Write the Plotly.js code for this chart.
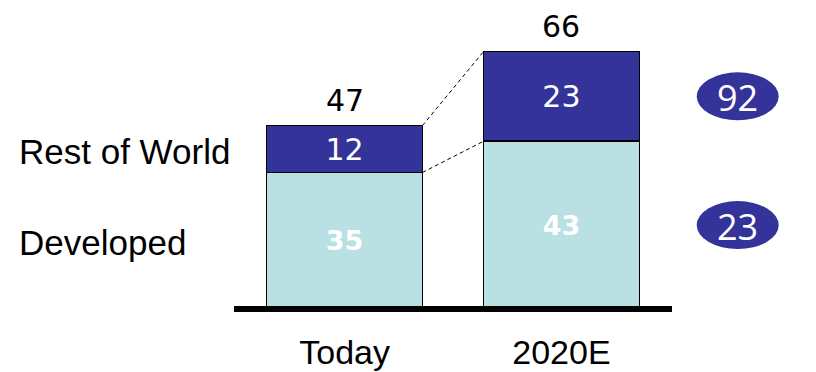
<!DOCTYPE html>
<html>
<head>
<meta charset="utf-8">
<script src="https://cdn.plot.ly/plotly-3.0.1.min.js"></script>
<style>html,body{margin:0;padding:0;background:#fff;}#chart{width:816px;height:372px;}</style>
</head>
<body>
<div id="chart"></div>
<script>
// ---- data ----
const categories = ["Today", "2020E"];
const developed = [35, 43];
const restOfWorld = [12, 23];
const totals = [47, 66];
const seriesNames = ["Developed", "Rest of World"];
const growthLabels = [23, 92]; // growth (%) for Developed, Rest of World

// ---- style ----
const darkBlue = "#333399";
const lightBlue = "#B9E0E3";
const barWidth = 0.718;
const labelFont = "Liberation Sans, Arial, sans-serif";
const numFont = "DejaVu Sans, Verdana, sans-serif";

const traces = [
  {
    type: "bar", x: categories, y: developed, name: seriesNames[0],
    width: barWidth,
    marker: {color: lightBlue, line: {color: "#000", width: 1.5}},
    text: developed.map(String), textposition: "inside", insidetextanchor: "middle",
    textangle: 0, constraintext: "none",
    textfont: {family: numFont, size: 27, color: "#fff", weight: "bold"},
    hoverinfo: "none"
  },
  {
    type: "bar", x: categories, y: restOfWorld, name: seriesNames[1],
    width: barWidth,
    marker: {color: darkBlue, line: {color: "#000", width: 1.5}},
    text: restOfWorld.map(String), textposition: "inside", insidetextanchor: "middle",
    textangle: 0, constraintext: "none",
    textfont: {family: numFont, size: 30, color: "#fff"},
    hoverinfo: "none"
  }
];

const annotations = [];
// totals above bars
categories.forEach((c, i) => {
  annotations.push({
    x: c, y: totals[i], xref: "x", yref: "y", text: String(totals[i]),
    showarrow: false, yanchor: "bottom", yshift: 6,
    font: {family: numFont, size: 30, color: "#000"}
  });
});
// series labels on the left, aligned with the Today segments
const segCentersToday = [developed[0] / 2, developed[0] + restOfWorld[0] / 2];
seriesNames.forEach((n, k) => {
  annotations.push({
    x: 0, xref: "paper", xanchor: "left", xshift: -217,
    y: segCentersToday[k], yref: "y", yshift: -2,
    text: n, showarrow: false,
    font: {family: labelFont, size: 35, color: "#000"}
  });
});

// growth ellipses aligned with 2020E segments
const segCenters2020 = [developed[1] / 2, developed[1] + restOfWorld[1] / 2];
const shapes = [];
growthLabels.forEach((g, k) => {
  shapes.push({
    type: "circle", xref: "paper", yref: "y",
    xsizemode: "pixel", ysizemode: "pixel",
    xanchor: 1.15, yanchor: segCenters2020[k],
    x0: -41, x1: 41, y0: -24, y1: 24,
    fillcolor: darkBlue, line: {width: 0}
  });
  annotations.push({
    x: 1.15, xref: "paper", xanchor: "center",
    y: segCenters2020[k], yref: "y", yanchor: "middle", yshift: -1,
    text: String(g), showarrow: false,
    font: {family: "Open Sans, sans-serif", size: 36, color: "#fff"}
  });
});

// dashed connector lines between bars
const edgeL = 0 + barWidth / 2, edgeR = 1 - barWidth / 2;
[[totals[0], totals[1]], [developed[0], developed[1]]].forEach(p => {
  shapes.push({
    type: "line", xref: "x", yref: "y",
    x0: edgeL, y0: p[0], x1: edgeR, y1: p[1],
    line: {color: "#000", width: 1, dash: "4px,3px"}
  });
});

// thick baseline along the bottom of the plot area
shapes.push({
  type: "line", xref: "paper", yref: "paper",
  x0: 0, x1: 1, y0: 0, y1: 0,
  line: {color: "#000", width: 6}
});

const layout = {
  width: 816, height: 372,
  margin: {l: 234, r: 144, t: 0, b: 63, pad: 0},
  paper_bgcolor: "#fff", plot_bgcolor: "#fff",
  barmode: "stack", showlegend: false,
  xaxis: {
    type: "category", range: [-0.51, 1.51],
    showline: false, ticks: "", showgrid: false, zeroline: false,
    ticklabelstandoff: 20,
    tickfont: {family: labelFont, size: 34, color: "#000"}
  },
  yaxis: {
    range: [0, 79.2], visible: false, showgrid: false, zeroline: false
  },
  annotations: annotations,
  shapes: shapes
};

Plotly.newPlot("chart", traces, layout, {displayModeBar: false, staticPlot: true});
</script>
</body>
</html>
